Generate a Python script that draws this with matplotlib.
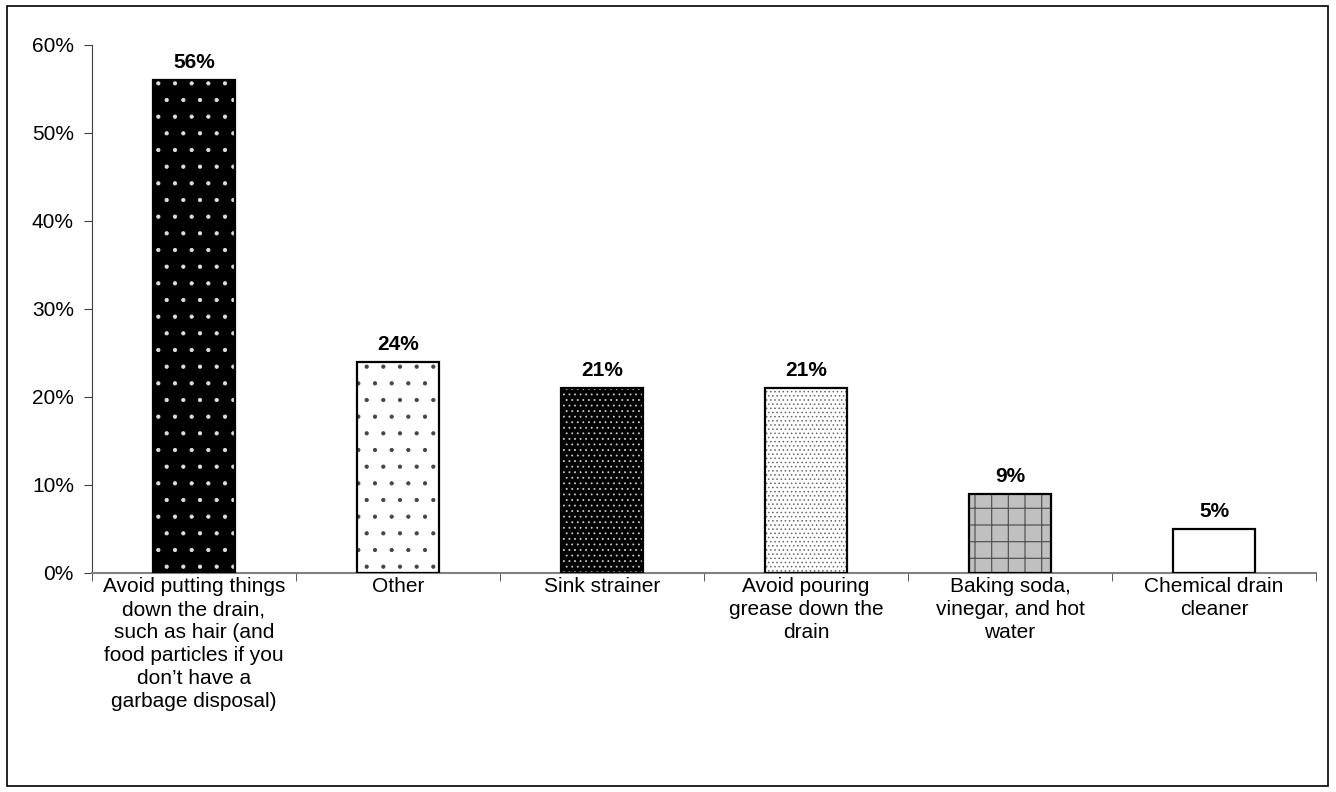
import matplotlib.pyplot as plt
from matplotlib.patches import Rectangle

# Dados do gráfico
categorias = [
    "Avoid putting things\ndown the drain,\nsuch as hair (and\nfood particles if you\ndon\u2019t have a\ngarbage disposal)",
    "Other",
    "Sink strainer",
    "Avoid pouring\ngrease down the\ndrain",
    "Baking soda,\nvinegar, and hot\nwater",
    "Chemical drain\ncleaner",
]
valores = [56, 24, 21, 21, 9, 5]
rotulos = ["56%", "24%", "21%", "21%", "9%", "5%"]
yticks = [0, 10, 20, 30, 40, 50, 60]

# Estilo de cada barra: (cor de fundo, cor do padrão, hachura, espessura do padrão)
estilos = [
    ("black", "#e0e0e0", ".", 0.6),
    ("white", "#444444", ".", 0.6),
    ("black", "#cccccc", "...", 0.6),
    ("white", "#666666", "....", 0.6),
    ("#c0c0c0", "#555555", "+", 0.9),
    ("white", "white", None, 0.6),
]

plt.rcParams["font.family"] = ["Liberation Sans", "DejaVu Sans"]

fig = plt.figure(figsize=(13.36, 7.92), dpi=100)
ax = fig.add_axes([92 / 1336, 219 / 792, 1224 / 1336, 528 / 792])

x = list(range(len(valores)))
for i, (v, (fc, hc, h, hlw)) in enumerate(zip(valores, estilos)):
    plt.rcParams["hatch.linewidth"] = hlw
    # camada com o padrão
    ax.bar(i, v, width=0.4, color=fc, edgecolor=hc, hatch=h, linewidth=0, zorder=2)
    # contorno preto
    ax.bar(i, v, width=0.4, facecolor="none", edgecolor="black", linewidth=1.6, zorder=3)
    ax.text(i, v + 0.9, rotulos[i], ha="center", va="bottom",
            fontsize=15, fontweight="bold")

ax.set_xlim(-0.5, len(valores) - 0.5)
ax.set_ylim(0, 60)
ax.set_yticks(yticks)
ax.set_yticklabels([f"{t}%" for t in yticks], fontsize=15)

ax.set_xticks(x)
ax.set_xticklabels(categorias, fontsize=15, linespacing=1.27)
ax.tick_params(axis="x", length=0, pad=3)
ax.set_xticks([i - 0.5 for i in range(len(valores) + 1)], minor=True)
ax.tick_params(axis="x", which="minor", length=6, direction="out", color="#404040")
ax.tick_params(axis="y", length=6, direction="out", color="#404040", pad=7)

for lado in ["top", "right"]:
    ax.spines[lado].set_visible(False)
ax.spines["left"].set_color("#404040")
ax.spines["bottom"].set_color("#808080")
ax.spines["bottom"].set_linewidth(1.5)

# moldura em volta da figura
fig.patches.append(Rectangle((7 / 1336, 6 / 792), 1321 / 1336, 780 / 792,
                             transform=fig.transFigure, fill=False,
                             edgecolor="black", linewidth=1.2))

fig.savefig("out.png", dpi=100)
